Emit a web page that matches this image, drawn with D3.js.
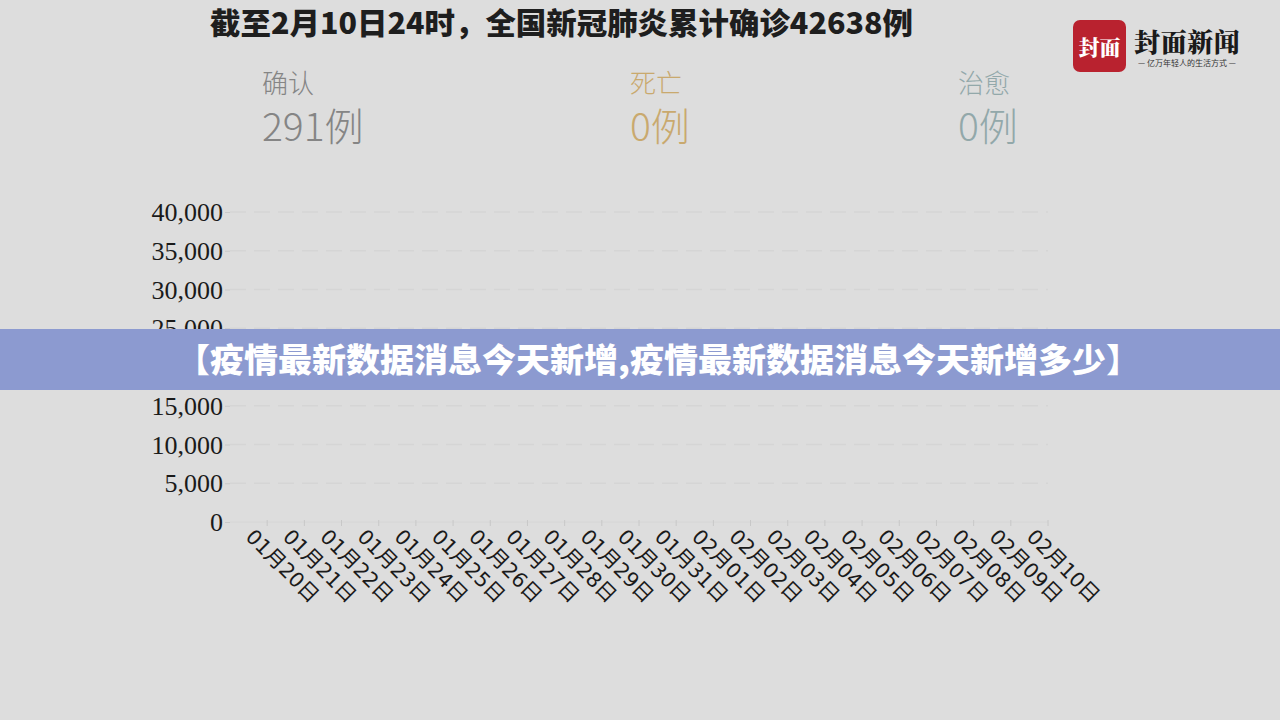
<!DOCTYPE html>
<html><head><meta charset="utf-8">
<script src="https://cdn.jsdelivr.net/npm/d3@7/dist/d3.min.js"></script>
<style>
html,body{margin:0;padding:0;background:#dddddd;}
svg{display:block;}
</style></head>
<body>
<svg id="chart" width="1280" height="720"></svg>
<script>
const titleText = "截至2月10日24时，全国新冠肺炎累计确诊42638例";
const dates = ["01月20日","01月21日","01月22日","01月23日","01月24日","01月25日","01月26日","01月27日","01月28日","01月29日","01月30日","01月31日","02月01日","02月02日","02月03日","02月04日","02月05日","02月06日","02月07日","02月08日","02月09日","02月10日"];
const yTicks = [0,5000,10000,15000,20000,25000,30000,35000,40000];
// animation frame: only the first day is shown
const confirmed = [291];
const deaths = [0];
const cured = [0];
const statLabels = ["确认","死亡","治愈"];
const statValues = [confirmed[0], deaths[0], cured[0]];
const statColors = ["#858585","#c9a96e","#92a8aa"];
const bannerText = "【疫情最新数据消息今天新增,疫情最新数据消息今天新增多少】";

const svg = d3.select("#chart");
svg.append("rect").attr("width",1280).attr("height",720).attr("fill","#dddddd");

// title
svg.append("text").attr("x",210).attr("y",34)
  .attr("font-family","'Noto Sans CJK SC'").attr("font-weight",900)
  .attr("font-size",30).attr("fill","#1e1e1e")
  .attr("textLength",703).attr("lengthAdjust","spacingAndGlyphs").text(titleText);

// logo
const logo = svg.append("g");
logo.append("rect").attr("x",1073).attr("y",20).attr("width",53).attr("height",52).attr("rx",7).attr("fill","#b9222f");
logo.append("text").attr("x",1099.5).attr("y",55).attr("text-anchor","middle")
  .attr("font-family","'Noto Serif CJK SC','Noto Sans CJK SC'").attr("font-weight",900).attr("font-size",21)
  .attr("fill","#ffffff").text("封面");
logo.append("text").attr("x",1134).attr("y",52)
  .attr("font-family","'Noto Serif CJK SC','Noto Sans CJK SC'").attr("font-weight",900).attr("font-size",26)
  .attr("fill","#1a1a1a").attr("textLength",106).text("封面新闻");
logo.append("text").attr("x",1187).attr("y",66).attr("text-anchor","middle")
  .attr("font-family","'Noto Sans CJK SC'").attr("font-size",8)
  .attr("fill","#333").text("— 亿万年轻人的生活方式 —");

// stats
const statX = [262,630,958];
statLabels.forEach((l,i)=>{
  svg.append("text").attr("x",statX[i]).attr("y",93)
    .attr("font-family","'Noto Sans CJK SC'").attr("font-weight",300).attr("font-size",26)
    .attr("fill",statColors[i]).text(l);
  svg.append("text").attr("x",statX[i]).attr("y",141)
    .attr("font-family","'Noto Sans CJK SC'").attr("font-weight",300).attr("font-size",39)
    .attr("fill",statColors[i]).text(statValues[i]+"例");
});

// scales
const x = d3.scaleBand().domain(dates).range([230,1048]);
const y = d3.scaleLinear().domain([0,40000]).range([522,212]);

// gridlines
svg.append("g").selectAll("line").data(yTicks.slice(1)).join("line")
  .attr("x1",230).attr("x2",1048).attr("y1",d=>y(d)).attr("y2",d=>y(d))
  .attr("stroke","#d5d5d5").attr("stroke-width",1.5).attr("stroke-dasharray","16,8");

// y axis
const yAxis = d3.axisLeft(y).tickValues(yTicks).tickFormat(d3.format(",")).tickSize(5).tickPadding(2);
const gy = svg.append("g").attr("transform","translate(230,0)").call(yAxis);
gy.select(".domain").remove();
gy.selectAll(".tick line").attr("stroke","#c9c9c9");
gy.selectAll(".tick text").attr("font-family","'Liberation Serif'").attr("font-size",26).attr("fill","#1a1a1a").attr("dy","0.33em");

// x axis
svg.append("line").attr("x1",230).attr("x2",1048).attr("y1",522).attr("y2",522).attr("stroke","#d6d6d6").attr("stroke-width",1);
const gx = svg.append("g");
gx.selectAll("line.tk").data(dates).join("line").attr("class","tk")
  .attr("x1",d=>x(d)+x.bandwidth()).attr("x2",d=>x(d)+x.bandwidth())
  .attr("y1",520).attr("y2",526).attr("stroke","#c8c8c8");
gx.selectAll("text").data(dates).join("text")
  .attr("transform",d=>`translate(${x(d)+x.bandwidth()/2-4},${538}) rotate(45)`)
  .attr("font-family","'DejaVu Sans','Noto Sans CJK SC'").attr("font-size",20.5).attr("fill","#1a1a1a")
  .attr("text-anchor","start").text(d=>d);

// data lines (only the first frame exists)
const line = d3.line().x((d,i)=>x(dates[i])+x.bandwidth()/2).y(d=>y(d));
[[confirmed,statColors[0]],[deaths,statColors[1]],[cured,statColors[2]]].forEach(([s,c])=>{
  svg.append("path").datum(s).attr("d",line).attr("fill","none").attr("stroke",c).attr("stroke-width",2);
});

// banner
svg.append("rect").attr("x",0).attr("y",329).attr("width",1280).attr("height",61).attr("fill","#8c9ad0");
svg.append("text").attr("x",176).attr("y",372)
  .attr("font-family","'Noto Sans CJK SC'").attr("font-weight",900).attr("font-size",33)
  .attr("fill","#ffffff").attr("textLength",964).attr("lengthAdjust","spacingAndGlyphs").text(bannerText);
</script>
</body></html>
